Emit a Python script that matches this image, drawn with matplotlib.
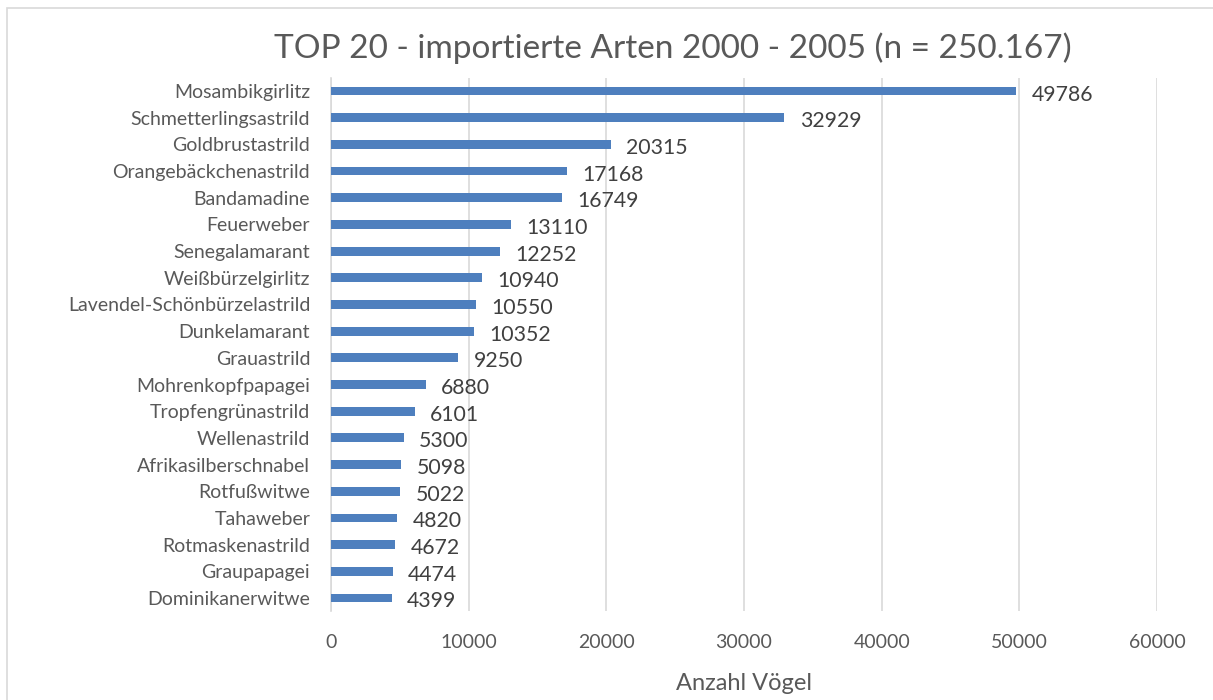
import matplotlib
matplotlib.use("Agg")
import matplotlib.pyplot as plt
from matplotlib.patches import Rectangle

species = ["Mosambikgirlitz", "Schmetterlingsastrild", "Goldbrustastrild",
           "Orangebäckchenastrild", "Bandamadine", "Feuerweber", "Senegalamarant",
           "Weißbürzelgirlitz", "Lavendel-Schönbürzelastrild", "Dunkelamarant",
           "Grauastrild", "Mohrenkopfpapagei", "Tropfengrünastrild", "Wellenastrild",
           "Afrikasilberschnabel", "Rotfußwitwe", "Tahaweber", "Rotmaskenastrild",
           "Graupapagei", "Dominikanerwitwe"]
counts = [49786, 32929, 20315, 17168, 16749, 13110, 12252, 10940, 10550, 10352,
          9250, 6880, 6101, 5300, 5098, 5022, 4820, 4672, 4474, 4399]
xticks = [0, 10000, 20000, 30000, 40000, 50000, 60000]
title = "TOP 20 - importierte Arten 2000 - 2005 (n = 250.167)"
xlabel = "Anzahl Vögel"

plt.rcParams['font.family'] = ['Lato', 'DejaVu Sans']
txt = '#595959'

fig = plt.figure(figsize=(12.13, 7.0), dpi=100)
W, H = 1213, 700
ax = fig.add_axes([331/W, 1-611.3/H, (1157-331)/W, (611.3-77.7)/H])

y = list(range(len(species)))
ax.barh(y, counts, height=0.33, color='#4E7FBE', zorder=3)
ax.set_ylim(len(species)-0.5, -0.5)
ax.set_xlim(0, 60000)
ax.set_yticks(y)
ax.set_yticklabels(species, fontsize=14, color=txt)
ax.set_xticks(xticks)
ax.set_xticklabels([str(v) for v in xticks], fontsize=14, color=txt)
ax.tick_params(axis='both', length=0)
ax.tick_params(axis='y', pad=15)
ax.tick_params(axis='x', pad=16)
ax.grid(axis='x', color='#d9d9d9', linewidth=1.2, zorder=0)
for s in ['top', 'right', 'bottom']:
    ax.spines[s].set_visible(False)
ax.spines['left'].set_color('#d9d9d9')
ax.spines['left'].set_linewidth(1.2)

for yi, c in zip(y, counts):
    ax.annotate(str(c), (c, yi), xytext=(11, -2.5), textcoords='offset points',
                ha='left', va='center', fontsize=15.3, color='#404040')

fig.text(673/W, 1-48/H, title, ha='center', va='center', fontsize=24, color=txt)
fig.text(744/W, 1-683/H, xlabel, ha='center', va='center', fontsize=17, color=txt)

fig.patches.append(Rectangle((7/W, -0.1), 1.2, 1-8/H+0.1, transform=fig.transFigure,
                             fill=False, edgecolor='#d9d9d9', linewidth=1.2))

fig.savefig('out.png', dpi=100, facecolor='white')
